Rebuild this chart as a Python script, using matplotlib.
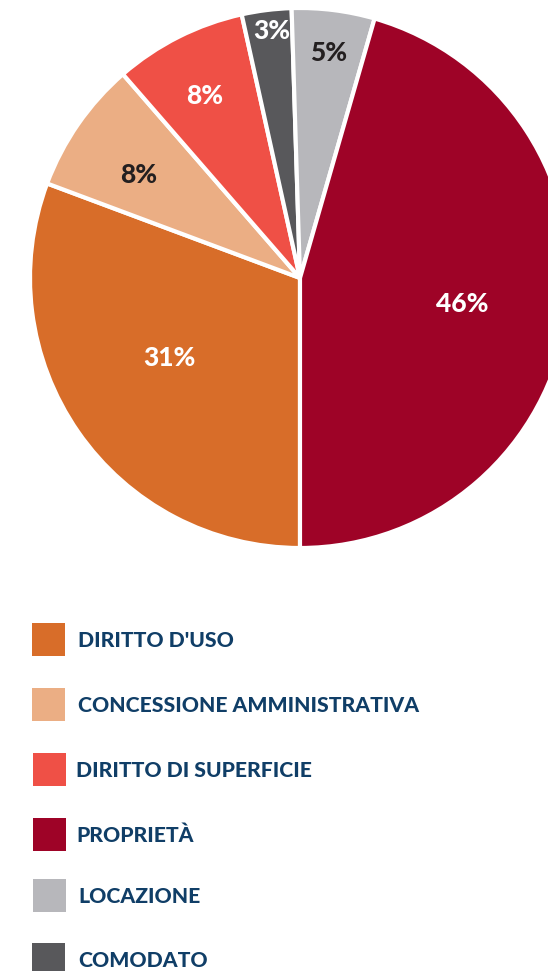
import matplotlib
matplotlib.use("Agg")
import matplotlib.pyplot as plt
import numpy as np

categories = ["DIRITTO D'USO", "CONCESSIONE AMMINISTRATIVA", "DIRITTO DI SUPERFICIE",
              "PROPRIETÀ", "LOCAZIONE", "COMODATO"]
values = [31, 8, 8, 46, 5, 3]
colors = ["#D86D29", "#EBAE84", "#EF5046", "#9E0327", "#B7B7BB", "#58585B"]
label_colors = ["white", "#231F20", "white", "white", "#231F20", "white"]
# clockwise drawing order from the bottom of the pie
pie_order = [0, 1, 2, 5, 4, 3]
label_dist = {0: 0.567, 1: 0.71, 2: 0.76, 5: 0.92, 4: 0.84, 3: 0.61}
label_rot = {0: -3.1, 1: 2.1, 2: 1.0, 5: -0.5, 4: 0, 3: -1.0}

W, H = 548, 971
fig = plt.figure(figsize=(W / 100, H / 100), dpi=100)
plt.rcParams['font.family'] = ['Lato', 'DejaVu Sans']

cx, cy, R = 300, 278, 270
ax_h = 560
ax = fig.add_axes([0, 1 - ax_h / H, 1, ax_h / H])
ax.axis('off')

vals = [values[i] for i in pie_order]
cols = [colors[i] for i in pie_order]
wedges, _ = ax.pie(vals, colors=cols, startangle=-90, counterclock=False,
                   wedgeprops=dict(edgecolor='white', linewidth=3), radius=1)
ax.set_xlim((0 - cx) / R, (W - cx) / R)
ax.set_ylim((cy - ax_h) / R, cy / R)
ax.set_aspect('auto')

for w, idx in zip(wedges, pie_order):
    ang = np.deg2rad((w.theta1 + w.theta2) / 2 + label_rot[idx])
    d = label_dist[idx]
    ax.text(d * np.cos(ang), d * np.sin(ang), f"{values[idx]}%",
            ha='center', va='center', fontsize=19, fontweight='black',
            color=label_colors[idx])

# legend
sq_top = [623, 688, 753, 818, 879, 943]
sq_x = [32, 32, 33, 33, 33, 32]
txt_x = [78, 78, 76, 76, 78, 78]
sq = 33
for i, cat in enumerate(categories):
    y0 = sq_top[i]
    fig.patches.append(plt.Rectangle((sq_x[i] / W, 1 - (y0 + sq) / H), sq / W, sq / H,
                                     transform=fig.transFigure, facecolor=colors[i],
                                     edgecolor='none'))
    fig.text(txt_x[i] / W, 1 - (y0 + sq / 2 + 1) / H, cat, ha='left', va='center',
             fontsize=15.2, fontweight='black', color="#103E67")

fig.savefig("out.png", dpi=100)
